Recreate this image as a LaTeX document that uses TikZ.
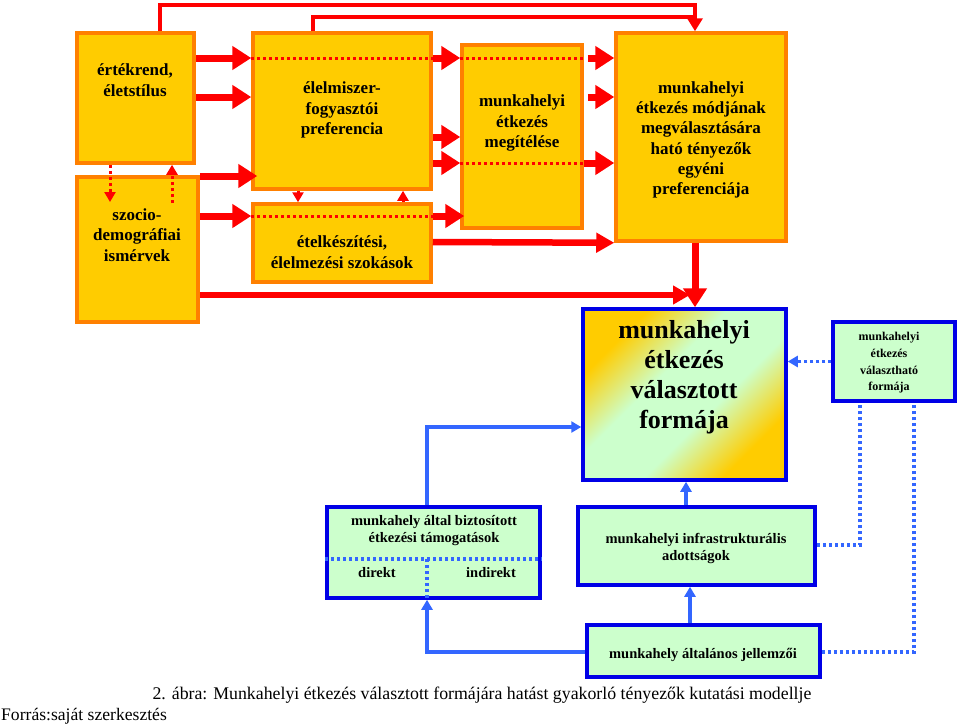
\documentclass[tikz,border=0pt]{standalone}
\usepackage{fontspec}
\setmainfont{Liberation Serif}
\usetikzlibrary{arrows.meta,calc}
\definecolor{gold}{HTML}{FFCC00}
\definecolor{obord}{HTML}{FF8000}
\definecolor{rline}{HTML}{FF0000}
\definecolor{lgreen}{HTML}{CCFFCC}
\definecolor{bbord}{HTML}{0000E6}
\definecolor{barrow}{HTML}{3366FF}
\pgfdeclareverticalshading{valshade}{100bp}{color(0bp)=(gold); color(27bp)=(gold); color(42bp)=(lgreen); color(58bp)=(lgreen); color(73bp)=(gold); color(100bp)=(gold)}
\tikzset{
  obox/.style={draw=obord, fill=gold, line width=3.5pt, inner sep=0pt},
  gbox/.style={draw=bbord, fill=lgreen, line width=3.5pt, inner sep=0pt},
  otxt/.style={font=\bfseries\fontsize{17}{20.5}\selectfont, align=center, inner sep=0pt},
  gtxt/.style={font=\bfseries\fontsize{14.5}{17}\selectfont, align=center, inner sep=0pt},
  bigarr/.style={draw=rline, line width=7pt, -{Triangle[width=23pt,length=19pt]}},
  midarr/.style={draw=rline, line width=6.5pt, -{Triangle[width=19pt,length=18pt]}},
  rtop/.style={draw=rline, line width=4pt},
  rdot/.style={draw=rline, line width=3pt, dash pattern=on 3pt off 3pt},
  rdotarr/.style={rdot, -{Triangle[width=11pt,length=10pt]}},
  barr/.style={draw=barrow, line width=3.5pt, -{Triangle[width=11pt,length=10pt]}},
  bdot/.style={draw=barrow, line width=3.5pt, dash pattern=on 3pt off 3pt},
}
\begin{document}
\begin{tikzpicture}[x=1pt,y=-1pt]
\useasboundingbox (0,0) rectangle (960,726);
% orange boxes
\node[obox, minimum width=117pt, minimum height=130pt] (ert) at (135.5,98) {};
\node[obox, minimum width=121pt, minimum height=145pt] (szo) at (137.5,249.5) {};
\node[obox, minimum width=178pt, minimum height=156pt] (elm) at (342,111) {};
\node[obox, minimum width=178pt, minimum height=78pt] (etel) at (342,243) {};
\node[obox, minimum width=120pt, minimum height=183pt] (meg) at (522,136.5) {};
\node[obox, minimum width=170pt, minimum height=208pt] (mod) at (701,137) {};
% green boxes
\node[draw=bbord, line width=3.5pt, shade, shading=valshade, shading angle=45, minimum width=203pt, minimum height=171pt] (val) at (684.5,394.5) {};
\node[gbox, minimum width=122pt, minimum height=79pt] (vh) at (894,361.5) {};
\node[gbox, minimum width=213pt, minimum height=91pt] (tam) at (433.5,552.5) {};
\node[gbox, minimum width=237pt, minimum height=78pt] (inf) at (696.5,546) {};
\node[gbox, minimum width=233pt, minimum height=52pt] (alt) at (703.5,651) {};
% texts
\node[otxt] (ertT) at (135,80) {értékrend,\\életstílus};
\node[otxt] (szoT) at (137,235) {szocio-\\demográfiai\\ismérvek};
\node[otxt] (elmT) at (342,110) {élelmiszer-\\fogyasztói\\preferencia};
\node[otxt] (etelT) at (342,252) {ételkészítési,\\élelmezési szokások};
\node[otxt] (megT) at (522,123) {munkahelyi\\étkezés\\megítélése};
\node[otxt, font=\bfseries\fontsize{17}{20.3}\selectfont] (modT) at (701,140) {munkahelyi\\étkezés módjának\\megválasztására\\ható tényezők\\egyéni\\preferenciája};
\node[otxt, font=\bfseries\fontsize{26}{30}\selectfont] (valT) at (684,377) {munkahelyi\\étkezés\\választott\\formája};
\node[otxt, font=\bfseries\fontsize{12}{16.7}\selectfont] (vhT) at (889,363) {munkahelyi\\étkezés\\választható\\formája};
\node[gtxt] (tamT) at (434,531) {munkahely által biztosított\\étkezési támogatások};
\node[gtxt] (dirT) at (377,573) {direkt};
\node[gtxt] (indT) at (491,573) {indirekt};
\node[gtxt] (infT) at (696,548) {munkahelyi infrastrukturális\\adottságok};
\node[gtxt] (altT) at (703,655) {munkahely általános jellemzői};
\node[font=\fontsize{17.8}{20}\selectfont, inner sep=0pt] (cap) at (482,695) {2. ábra: Munkahelyi étkezés választott formájára hatást gyakorló tényezők kutatási modellje};
\node[font=\fontsize{17.6}{20}\selectfont, inner sep=0pt, anchor=west] (src) at (1,716) {Forrás:saját szerkesztés};
% top red lines
\draw[rtop] (160,0 |- ert.north) -- (160,5) -- (695,5) -- (695,17);
\draw[rtop, -{Triangle[width=15pt,length=13pt]}] (313,0 |- elm.north) -- (313,17) -- (695,17) -- (695,0 |- mod.north);
% row y=58
\draw[bigarr] (ert.east |- 0,58) -- (elm.west |- 0,58);
\draw[rdot] (elm.west |- 0,58) -- (elm.east |- 0,58);
\draw[bigarr] (elm.east |- 0,58) -- (meg.west |- 0,58);
\draw[rdot] (meg.west |- 0,58) -- (meg.east |- 0,58);
\draw[bigarr] ($(meg.east |- 0,58)+(4,0)$) -- (mod.west |- 0,58);
% row y=97
\draw[bigarr] (ert.east |- 0,97) -- (elm.west |- 0,97);
\draw[bigarr] ($(meg.east |- 0,97)+(4,0)$) -- (mod.west |- 0,97);
% row y=137
\draw[bigarr] (elm.east |- 0,137) -- (meg.west |- 0,137);
% row y=163
\draw[bigarr] (elm.east |- 0,163) -- (meg.west |- 0,163);
\draw[rdot] (meg.west |- 0,163) -- (meg.east |- 0,163);
\draw[bigarr] (meg.east |- 0,163) -- (mod.west |- 0,163);
% row y=176
\draw[bigarr] (szo.east |- 0,176) -- ($(elm.west |- 0,176)+(6,0)$);
% row y=216
\draw[bigarr] (szo.east |- 0,216) -- (elm.west |- 0,216);
\draw[rdot] (etel.west |- 0,216) -- (etel.east |- 0,216);
\draw[bigarr] (etel.east |- 0,216) -- ($(meg.west |- 0,216)+(4,0)$);
% row y=242
\draw[midarr] (etel.east |- 0,242) -- (mod.south west);
% row y=295
\draw[draw=rline, line width=6pt, -{Triangle[width=18pt,length=17pt]}] (szo.east |- 0,295) -- (690,295);
% down to val
\draw[bigarr] (695,0 |- mod.south) -- (695,0 |- val.north);
% dotted red vertical
\draw[rdotarr] (110,0 |- ert.south) -- (110,202);
\draw[rdotarr] (172,203) -- (172,0 |- ert.south);
\draw[rdotarr] (298,0 |- elm.south) -- (298,0 |- etel.north);
\draw[rdotarr] (403,0 |- etel.north) -- (403,0 |- elm.south);
% blue
\draw[barr] (427,0 |- tam.north) -- (427,427) -- (val.west |- 0,427);
\draw[barr] (686,0 |- inf.north) -- (686,0 |- val.south);
\draw[barr] (690,0 |- alt.north) -- (690,0 |- inf.south);
\draw[barr] (alt.west |- 0,652) -- (427,652) -- (427,0 |- tam.south);
\draw[bdot, -{Triangle[width=11pt,length=10pt]}] (vh.west) -- (val.east |- vh.west);
\draw[bdot] (inf.east |- 0,545) -- (860,545) -- (860,0 |- vh.south);
\draw[bdot] (alt.east |- 0,652) -- (914,652) -- (914,0 |- vh.south);
\draw[bdot] (tam.west |- 0,559) -- (tam.east |- 0,559);
\draw[bdot] (427,559) -- (427,0 |- tam.south);
\end{tikzpicture}
\end{document}
